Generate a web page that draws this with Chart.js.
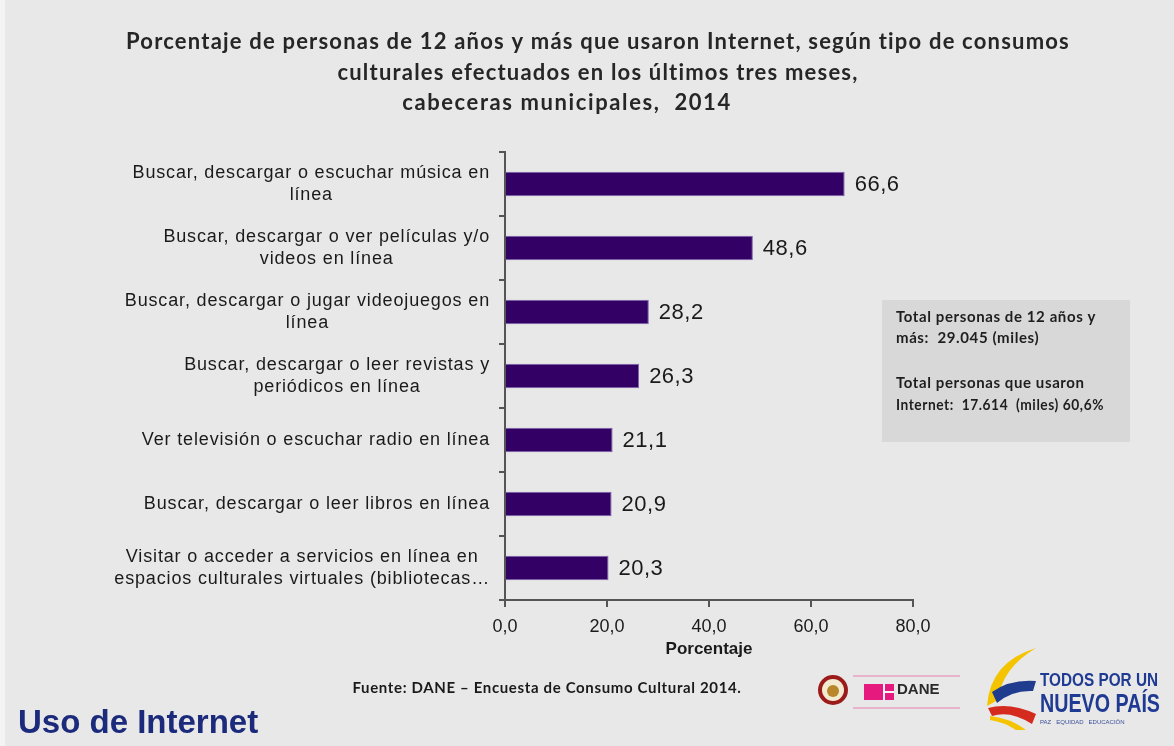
<!DOCTYPE html>
<html>
<head>
<meta charset="utf-8">
<script src="https://cdn.jsdelivr.net/npm/chart.js@4.4.0/dist/chart.umd.min.js"></script>
<style>
  html, body { margin: 0; padding: 0; background: #e8e8e8; }
  canvas { display: block; }
</style>
</head>
<body>
<canvas id="chart" width="1174" height="746"></canvas>
<script>
// data
const categories = [
  ['Buscar, descargar o escuchar música en', 'línea'],
  ['Buscar, descargar o ver películas y/o', 'videos en línea'],
  ['Buscar, descargar o jugar videojuegos en', 'línea'],
  ['Buscar, descargar o leer revistas y', 'periódicos en línea'],
  ['Ver televisión o escuchar radio en línea'],
  ['Buscar, descargar o leer libros en línea'],
  ['Visitar o acceder a servicios en línea en', 'espacios culturales virtuales (bibliotecas…']
];
const values = [66.6, 48.6, 28.2, 26.3, 21.1, 20.9, 20.3];
const xTicks = [0, 20, 40, 60, 80];

const titleLines = [
  'Porcentaje de personas de 12 años y más que usaron Internet, según tipo de consumos',
  'culturales efectuados en los últimos tres meses,',
  'cabeceras municipales,  2014'
];
const axisTitle = 'Porcentaje';
const boxLines = [
  ['Total personas de 12 años y', 'más:  29.045 (miles)'],
  ['Total personas que usaron', 'Internet:  17.614  (miles) 60,6%']
];
const sourceText = 'Fuente: DANE – Encuesta de Consumo Cultural 2014.';
const footerText = 'Uso de Internet';

const fmt = v => v.toFixed(1).replace('.', ',');

const decor = {
  id: 'decor',
  beforeDraw(chart) {
    const ctx = chart.ctx;
    ctx.save();
    ctx.fillStyle = '#e8e8e8';
    ctx.fillRect(0, 0, chart.width, chart.height);
    ctx.fillStyle = '#f4f4f4';
    ctx.fillRect(0, 0, 5, chart.height);
    // info box
    ctx.fillStyle = '#d8d8d8';
    ctx.fillRect(882, 300, 248, 142);
    ctx.restore();
  },
  afterDraw(chart) {
    const ctx = chart.ctx;
    const yScale = chart.scales.y;
    ctx.save();

    // title
    ctx.fillStyle = '#262626';
    ctx.font = 'bold 22px Lato';
    ctx.letterSpacing = '1.2px';
    ctx.textAlign = 'center';
    ctx.textBaseline = 'middle';
    ctx.fillText(titleLines[0], 598, 42);
    ctx.fillText(titleLines[1], 598, 73);
    ctx.letterSpacing = '1.6px';
    ctx.fillText(titleLines[2], 567, 103);

    // category labels: block right aligned, lines centred
    ctx.font = '18px "Liberation Sans"';
    ctx.letterSpacing = '0.85px';
    ctx.fillStyle = '#1a1a1a';
    categories.forEach((lines, i) => {
      const y = yScale.getPixelForTick(i);
      const w = Math.max(...lines.map(l => ctx.measureText(l).width));
      const cx = yScale.right - 15 - w / 2;
      lines.forEach((l, j) => {
        ctx.fillText(l, cx, y + (j - (lines.length - 1) / 2) * 21.5);
      });
    });

    // value labels
    ctx.font = '22px "Liberation Sans"';
    ctx.letterSpacing = '0.5px';
    ctx.textAlign = 'left';
    ctx.fillStyle = '#1a1a1a';
    chart.getDatasetMeta(0).data.forEach((bar, i) => {
      ctx.fillText(fmt(values[i]), bar.x + 10, bar.y + 1);
    });

    // info box text
    ctx.font = 'bold 15px Lato';
    ctx.letterSpacing = '0.6px';
    ctx.fillStyle = '#1e1e1e';
    ctx.fillText(boxLines[0][0], 896, 317);
    ctx.fillText(boxLines[0][1], 896, 338);
    ctx.fillText(boxLines[1][0], 896, 383);
    ctx.fillText(boxLines[1][1], 896, 405, 208);

    // source
    ctx.font = 'bold 15px Lato';
    ctx.letterSpacing = '0.65px';
    ctx.fillStyle = '#1a1a1a';
    ctx.textAlign = 'center';
    ctx.fillText(sourceText, 547, 688);
    ctx.letterSpacing = '0px';

    // footer title
    ctx.font = 'bold 33px "Liberation Sans"';
    ctx.fillStyle = '#1c2a7c';
    ctx.textAlign = 'left';
    ctx.fillText(footerText, 18, 724, 242);

    // logos
    ctx.fillStyle = '#9b1b1b';
    ctx.beginPath(); ctx.arc(833, 690, 15, 0, Math.PI * 2); ctx.fill();
    ctx.fillStyle = '#f3ead2';
    ctx.beginPath(); ctx.arc(833, 690, 11, 0, Math.PI * 2); ctx.fill();
    ctx.fillStyle = '#b8862b';
    ctx.beginPath(); ctx.arc(833, 691, 6, 0, Math.PI * 2); ctx.fill();

    ctx.strokeStyle = '#e9b3cc';
    ctx.lineWidth = 2;
    ctx.beginPath();
    ctx.moveTo(853, 676); ctx.lineTo(960, 676);
    ctx.moveTo(853, 708); ctx.lineTo(960, 708);
    ctx.stroke();
    ctx.fillStyle = '#e5197e';
    ctx.fillRect(864, 684, 30, 16);
    ctx.fillStyle = '#f4f4f4';
    ctx.fillRect(883, 684, 2, 16);
    ctx.fillRect(885, 691, 9, 2);
    ctx.font = 'bold 15px "Liberation Sans"';
    ctx.fillStyle = '#2a2a2a';
    ctx.fillText('DANE', 897, 690, 52);

    // flag "E"
    ctx.fillStyle = '#f5c400';
    ctx.beginPath();
    ctx.moveTo(1036, 648);
    ctx.quadraticCurveTo(990, 662, 987, 706);
    ctx.lineTo(998, 700);
    ctx.quadraticCurveTo(1002, 668, 1036, 648);
    ctx.fill();
    ctx.fillStyle = '#1f3c8f';
    ctx.beginPath();
    ctx.moveTo(992, 692);
    ctx.quadraticCurveTo(1010, 679, 1036, 681);
    ctx.lineTo(1033, 691);
    ctx.quadraticCurveTo(1012, 690, 997, 703);
    ctx.fill();
    ctx.fillStyle = '#d52b1e';
    ctx.beginPath();
    ctx.moveTo(988, 708);
    ctx.quadraticCurveTo(1010, 702, 1036, 714);
    ctx.lineTo(1032, 724);
    ctx.quadraticCurveTo(1010, 710, 992, 716);
    ctx.fill();
    ctx.fillStyle = '#f5c400';
    ctx.beginPath();
    ctx.moveTo(990, 716);
    ctx.quadraticCurveTo(1010, 718, 1026, 730);
    ctx.lineTo(1016, 730);
    ctx.quadraticCurveTo(1004, 722, 990, 720);
    ctx.fill();

    ctx.fillStyle = '#1f3a93';
    ctx.font = 'bold 19px "Liberation Sans Narrow", "Liberation Sans"';
    ctx.fillText('TODOS POR UN', 1040, 681, 118);
    ctx.font = 'bold 26px "Liberation Sans Narrow", "Liberation Sans"';
    ctx.fillText('NUEVO PAÍS', 1040, 705, 120);
    ctx.font = '6px "Liberation Sans"';
    ctx.fillStyle = '#3a4f9a';
    ctx.fillText('PAZ   EQUIDAD   EDUCACIÓN', 1040, 722, 118);

    ctx.restore();
  }
};

new Chart(document.getElementById('chart'), {
  type: 'bar',
  data: {
    labels: categories,
    datasets: [{
      data: values,
      backgroundColor: '#330066',
      borderColor: '#7d62ad',
      borderWidth: 1,
      barPercentage: 0.38,
      categoryPercentage: 1
    }]
  },
  options: {
    indexAxis: 'y',
    responsive: false,
    devicePixelRatio: 1,
    animation: false,
    layout: { padding: { top: 152, right: 261, left: 0, bottom: 0 } },
    plugins: {
      legend: { display: false },
      tooltip: { enabled: false },
      title: { display: false }
    },
    scales: {
      x: {
        min: 0,
        max: 80,
        afterFit: s => { s.height = 146; },
        afterBuildTicks: s => { s.ticks = xTicks.map(v => ({ value: v })); },
        ticks: {
          color: '#1a1a1a',
          font: { family: 'Liberation Sans', size: 18 },
          padding: 9,
          maxRotation: 0,
          callback: v => fmt(v)
        },
        grid: {
          drawOnChartArea: false,
          drawTicks: true,
          tickLength: 7,
          color: '#555555',
          lineWidth: 2
        },
        border: { color: '#555555', width: 2 },
        title: {
          display: true,
          text: axisTitle,
          color: '#1a1a1a',
          font: { family: 'Liberation Sans', size: 17, weight: 'bold' },
          padding: { top: 0, bottom: 86 }
        }
      },
      y: {
        afterFit: s => { s.width = 505; },
        ticks: { display: false },
        grid: {
          offset: true,
          drawOnChartArea: false,
          drawTicks: true,
          tickLength: 6,
          color: '#555555',
          lineWidth: 2
        },
        border: { color: '#555555', width: 2 }
      }
    }
  },
  plugins: [decor]
});
</script>
</body>
</html>
